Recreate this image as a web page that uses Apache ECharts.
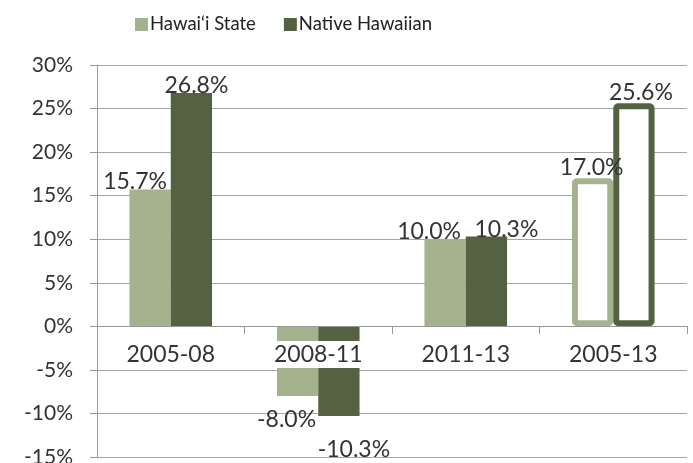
<!DOCTYPE html>
<html>
<head>
<meta charset="utf-8">
<script src="https://cdn.jsdelivr.net/npm/echarts@6/dist/echarts.min.js"></script>
<style>
  html, body { margin: 0; padding: 0; background: #fff; }
  #chart { width: 693px; height: 463px; }
</style>
</head>
<body>
<div id="chart"></div>
<script>
var categories = ['2005-08', '2008-11', '2011-13', '2005-13'];
var seriesNames = ['Hawai\u2018i State', 'Native Hawaiian'];
var stateValues = [15.7, -8.0, 10.0, 17.0];
var nativeValues = [26.8, -10.3, 10.3, 25.6];
var yTicks = [-15, -10, -5, 0, 5, 10, 15, 20, 25, 30];

// label nudges, like the spreadsheet placed them
var stateOffsets = [[-15, 4], [-11, 12], [-16, 4], [-1, 1]];
var nativeOffsets = [[5, 4], [15, 22], [20, 4], [7, 1]];

var light = '#a5b28e';
var dark = '#556241';
var font = 'Lato';

var myChart = echarts.init(document.getElementById('chart'));

function buildData(values, offsets, color) {
    return values.map(function (v, i) {
        var item = {
            value: v,
            label: {
                offset: offsets[i],
                position: v < 0 ? 'bottom' : 'top'
            }
        };
        // last period is drawn as an outline
        if (i === values.length - 1) {
            item.itemStyle = {
                color: '#fff',
                borderColor: color,
                borderWidth: 6,
                borderRadius: 2
            };
        }
        return item;
    });
}

var labelStyle = {
    show: true,
    distance: 0,
    fontFamily: font,
    fontSize: 23,
    color: '#333',
    formatter: function (p) { return p.value.toFixed(1) + '%'; }
};

var option = {
    animation: false,
    textStyle: { fontFamily: font },
    legend: {
        top: 10,
        left: 130,
        itemWidth: 13,
        itemHeight: 13,
        itemGap: 28,
        icon: 'rect',
        textStyle: { fontFamily: font, fontSize: 18.5, color: '#222', padding: [0, 0, 0, -3] },
        data: seriesNames
    },
    grid: {
        left: 97,
        right: 6,
        top: 65,
        bottom: 6,
        outerBoundsMode: 'none',
        containLabel: false
    },
    xAxis: {
        type: 'category',
        data: categories,
        position: 'bottom',
        // sits on the 0% line
        offset: -131,
        z: 10,
        axisLine: { onZero: false, lineStyle: { color: '#999', width: 1 } },
        axisTick: { show: true, length: 8, lineStyle: { color: '#999' } },
        axisLabel: {
            fontFamily: font,
            fontSize: 23,
            color: '#333',
            margin: 15,
            backgroundColor: '#fff',
            padding: [2, 2, 2, 2]
        },
        splitLine: { show: false }
    },
    yAxis: {
        type: 'value',
        min: yTicks[0],
        max: yTicks[yTicks.length - 1],
        interval: 5,
        axisLine: { show: true, lineStyle: { color: '#999' } },
        axisTick: { show: true, inside: false, length: 7, lineStyle: { color: '#999' } },
        axisLabel: {
            fontFamily: font,
            fontSize: 21,
            color: '#333',
            margin: 24,
            formatter: '{value}%'
        },
        splitLine: { show: true, lineStyle: { color: '#a6a6a6', width: 1 } }
    },
    series: [
        {
            name: seriesNames[0],
            type: 'bar',
            barGap: '0%',
            barCategoryGap: '44%',
            itemStyle: { color: light },
            label: labelStyle,
            data: buildData(stateValues, stateOffsets, light)
        },
        {
            name: seriesNames[1],
            type: 'bar',
            barGap: '0%',
            barCategoryGap: '44%',
            itemStyle: { color: dark },
            label: labelStyle,
            data: buildData(nativeValues, nativeOffsets, dark)
        }
    ]
};

myChart.setOption(option, true);

window.addEventListener('resize', function () {
    myChart.resize();
});
</script>
</body>
</html>
